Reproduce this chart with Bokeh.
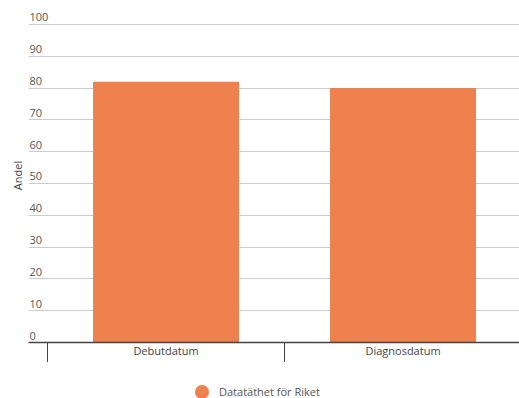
from bokeh.plotting import figure
from bokeh.layouts import column
from bokeh.models import FixedTicker, Range1d, Legend, LegendItem, ColumnDataSource
from bokeh.core.properties import value
from bokeh.embed import file_html
from bokeh.resources import INLINE

categories = ["Debutdatum", "Diagnosdatum"]
values = [82, 80]
series_name = "Datatäthet för Riket"
y_ticks = [0, 10, 20, 30, 40, 50, 60, 70, 80, 90, 100]
y_tick_labels = [str(t) for t in y_ticks]
y_axis_title = "Andel"

FONT = "Open Sans"
ORANGE = "#EE814E"

x_pos = list(range(len(categories)))
x_start, x_end = -0.5802, 1.4915

p = figure(width=519, height=362, output_backend="svg", toolbar_location=None,
           x_range=Range1d(x_start, x_end), y_range=Range1d(0, 105),
           min_border_left=28, min_border_right=0, min_border_top=8, min_border_bottom=20)
p.outline_line_color = None
p.background_fill_color = "white"
p.border_fill_color = "white"

# grid
p.xgrid.visible = False
p.ygrid.ticker = FixedTicker(ticks=y_ticks)
p.ygrid.grid_line_color = "#cccccc"
p.ygrid.grid_line_width = 1

# y axis: only title
p.yaxis.ticker = FixedTicker(ticks=[])
p.yaxis.axis_line_color = None
p.yaxis.major_tick_line_color = None
p.yaxis.minor_tick_line_color = None
p.yaxis.major_label_text_font_size = "0px"
p.yaxis.axis_label = y_axis_title
p.yaxis.axis_label_text_font = FONT
p.yaxis.axis_label_text_font_size = "11px"
p.yaxis.axis_label_text_font_style = "normal"
p.yaxis.axis_label_text_color = "#444444"
p.yaxis.axis_label_standoff = 4

# x axis: category labels at centres, tick marks at boundaries
boundaries = [i - 0.5 for i in x_pos]
p.xaxis.ticker = FixedTicker(ticks=x_pos, minor_ticks=boundaries)
p.xaxis.major_label_overrides = {i: c for i, c in zip(x_pos, categories)}
p.xaxis.major_tick_out = 0
p.xaxis.major_tick_in = 0
p.xaxis.major_tick_line_color = None
p.xaxis.minor_tick_out = 20
p.xaxis.minor_tick_in = 0
p.xaxis.minor_tick_line_color = "#444444"
p.xaxis.minor_tick_line_width = 1
p.xaxis.axis_line_color = "#444444"
p.xaxis.axis_line_width = 1.5
p.xaxis.major_label_standoff = -20
p.xaxis.major_label_text_font = FONT
p.xaxis.major_label_text_font_size = "11px"
p.xaxis.major_label_text_color = "#444444"

# bars
src = ColumnDataSource(dict(x=x_pos, top=values))
bars = p.vbar(x="x", top="top", width=0.616, bottom=0, source=src,
              fill_color=ORANGE, line_color=None)

# y tick labels above grid lines
p.text(x=[x_start] * len(y_ticks), y=y_ticks, text=y_tick_labels,
       text_font=value(FONT), text_font_size="11px", text_color="#555555",
       text_baseline="bottom", text_align="left", x_offset=1, y_offset=-3)

# legend strip
lg = figure(width=519, height=36, output_backend="svg", toolbar_location=None,
            x_range=Range1d(0, 1), y_range=Range1d(0, 1),
            min_border=0, min_border_left=0, min_border_right=0,
            min_border_top=0, min_border_bottom=0)
lg.axis.visible = False
lg.grid.visible = False
lg.outline_line_color = None
lg.border_fill_color = "white"
dummy = lg.scatter(x=[-10], y=[-10], size=14, marker="circle", fill_color=ORANGE, line_color=None)
legend = Legend(items=[LegendItem(label=series_name, renderers=[dummy])],
                location=(156, -11), glyph_width=35, glyph_height=35,
                label_standoff=0, padding=0, margin=0, spacing=0,
                border_line_color=None, background_fill_alpha=0,
                label_text_font=FONT, label_text_font_size="11px",
                label_text_color="#555555")
lg.add_layout(legend, "center")

layout = column(p, lg, spacing=0)
open("out.html", "w").write(file_html(layout, INLINE))
